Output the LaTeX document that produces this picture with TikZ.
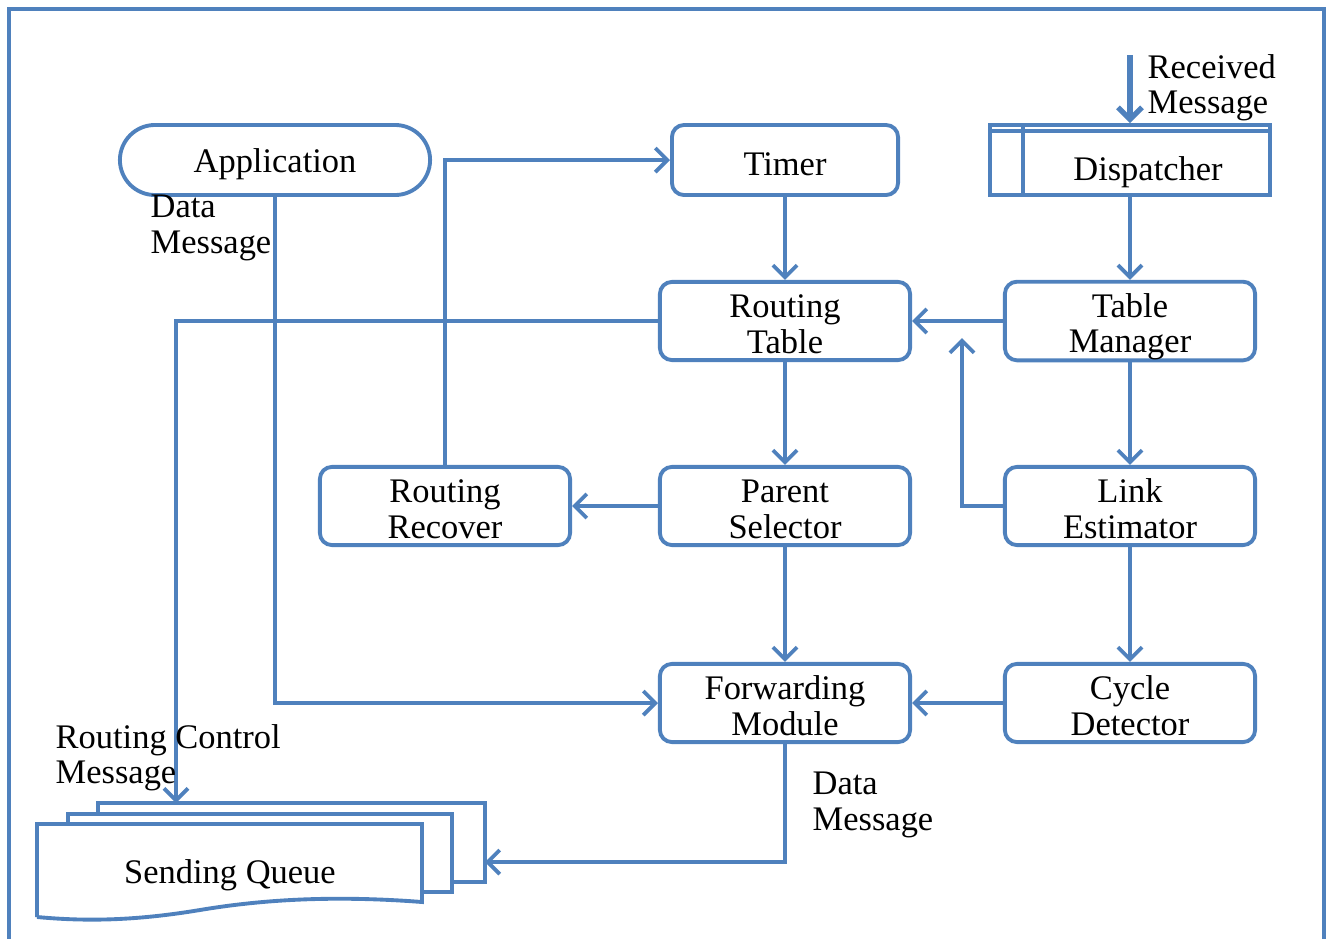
\documentclass[tikz,border=0pt]{standalone}
\usepackage{fontspec}
\setmainfont{Liberation Serif}
\usetikzlibrary{arrows.meta}
\definecolor{boxblue}{RGB}{79,129,189}
\newcommand{\qs}{\rule[-0.02cm]{0pt}{0.34cm}}
\newcommand{\qa}{\rule{0pt}{0.36cm}}
\newcommand{\qz}{\rule[-0.07cm]{0pt}{0.07cm}}

\tikzset{
  blk/.style={draw=boxblue, line width=1.1pt, rounded corners=0.12cm,
    minimum width=2.5cm, minimum height=0.78cm, inner xsep=1pt, inner ysep=0pt,
    align=center, font=\fontsize{9.8}{10}\selectfont},
  lnk/.style={boxblue, line width=1.1pt,
    -{Straight Barb[length=0.12cm,width=0.24cm]}},
  note/.style={align=left, inner sep=0pt, anchor=west,
    font=\fontsize{9.8}{10}\selectfont}
}

\begin{document}
\begin{tikzpicture}[x=0.01cm,y=-0.01cm]
\useasboundingbox (0,0) rectangle (1329,939);

% frame
\draw[boxblue, line width=1.3pt] (9,939) -- (9,9) -- (1324,9) -- (1324,939);

% top row
\node[blk, rounded corners=0.35cm, minimum width=3.1cm,
      minimum height=0.7cm] (app) at (275,160) {\qs Application};
\node[blk, minimum width=2.26cm, minimum height=0.7cm] (timer) at (785,160) {\qs Timer};
\node[draw=boxblue, line width=1.1pt, minimum width=2.8cm, minimum height=0.7cm,
      inner sep=1pt, text height=0.40cm, text depth=0cm,
      font=\fontsize{9.8}{10}\selectfont]
      (disp) at (1130,160) {\hspace*{0.36cm}Dispatcher};
\draw[boxblue, line width=1.1pt]
  ([yshift=-0.08cm]disp.north west) -- ([yshift=-0.08cm]disp.north east)
  ([xshift=0.35cm]disp.north west) -- ([xshift=0.35cm]disp.south west);

% middle rows
\node[blk] (rtable) at (785,321) {\qa Routing\\Table\qz};
\node[blk] (tman) at (1130,321) {\qa Table\\Manager\qz};
\node[blk] (rrec) at (445,506) {\qa Routing\\Recover\qz};
\node[blk] (psel) at (785,506) {\qa Parent\\Selector\qz};
\node[blk] (lest) at (1130,506) {\qa Link\\Estimator\qz};
\node[blk] (fwd) at (785,703) {\qa Forwarding\\Module\qz};
\node[blk] (cdet) at (1130,703) {\qa Cycle\\Detector\qz};

% sending queue (three sheets)
\draw[boxblue, line width=1.1pt] (98,814) -- (98,803) -- (485,803) -- (485,882) -- (452,882);
\draw[boxblue, line width=1.1pt] (68,824) -- (68,814) -- (452,814) -- (452,892) -- (422,892);
\draw[boxblue, line width=1.1pt, fill=white] (37,917) -- (37,824) -- (422,824) -- (422,902)
  .. controls (330,895) and (260,900) .. (200,910)
  .. controls (140,920) and (90,922) .. (37,917);
\node[font=\fontsize{9.8}{10}\selectfont] (queue) at (230,875) {Sending Queue};
\coordinate (qtop) at (176,803);
\coordinate (qright) at (485,862);

% free ends
\coordinate (recv) at (1130,55);
\coordinate (lup) at (962,338);

% connectors
\draw[lnk, line width=1.5pt] (recv) -- (disp.north);
\draw[lnk] (disp.south) -- (tman.north);
\draw[lnk] (timer.south) -- (rtable.north);
\draw[lnk] (tman.west) -- (rtable.east);
\draw[lnk] (rtable.west) -| (qtop);
\draw[lnk] (rtable.south) -- (psel.north);
\draw[lnk] (psel.west) -- (rrec.east);
\draw[lnk] (rrec.north) |- (timer.west);
\draw[lnk] (tman.south) -- (lest.north);
\draw[lnk] (lest.west) -| (lup);
\draw[lnk] (lest.south) -- (cdet.north);
\draw[lnk] (cdet.west) -- (fwd.east);
\draw[lnk] (psel.south) -- (fwd.north);
\draw[lnk] (app.south) |- (fwd.west);
\draw[lnk] (fwd.south) |- (qright);

% labels
\node[note] (lrecv) at (1147,88) {Received\\Message};
\node[note] (ldata) at (150,228) {Data\\Message};
\node[note] (lctrl) at (55,758) {Routing Control\\Message};
\node[note] (ldata2) at (812,805) {Data\\Message};
\end{tikzpicture}
\end{document}
